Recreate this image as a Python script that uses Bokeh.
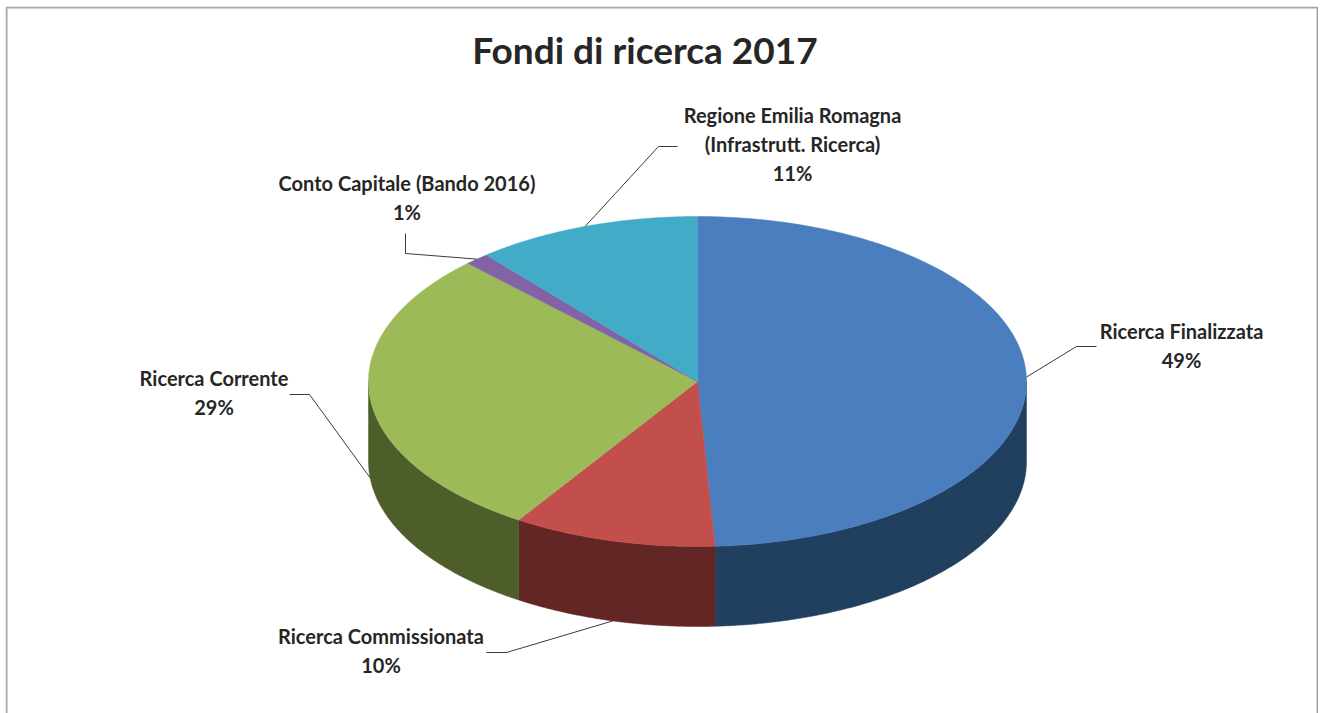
import numpy as np
from bokeh.plotting import figure
from bokeh.models import Range1d
from bokeh.core.properties import value
from bokeh.embed import file_html
from bokeh.resources import INLINE

title = "Fondi di ricerca 2017"
categories = ["Ricerca Finalizzata", "Ricerca Commissionata", "Ricerca Corrente",
              "Conto Capitale (Bando 2016)", "Regione Emilia Romagna (Infrastrutt. Ricerca)"]
shares = [49.15, 10.0, 28.55, 1.2, 11.1]
percent_labels = ["49%", "10%", "29%", "1%", "11%"]
label_lines = [["Ricerca Finalizzata"], ["Ricerca Commissionata"], ["Ricerca Corrente"],
               ["Conto Capitale (Bando 2016)"], ["Regione Emilia Romagna", "(Infrastrutt. Ricerca)"]]
top_colors = ["#4A7EBF", "#C24F4B", "#9CBB58", "#8263A5", "#41ABC8"]
side_colors = ["#214060", "#622625", "#4E5E2B", "#4E3D63", "#1F6478"]

# layout, in page pixels
CX, CY, RX, RY, DEPTH = 698.0, 381.0, 329.0, 165.0, 80.0
label_centre = [(1182, 330.5), (381.5, 635.5), (214.5, 377.5), (407.5, 182.5), (793, 114.5)]
line_step = 29
elbows = [[(1077, 346), (1097, 346)], [(507, 652), (487, 652)], [(310, 394), (290, 394)],
          [(406, 253), (406, 233)], [(659, 146), (678, 146)]]
FONT = "Lato"
INK = "#262626"

def ex(t):
    return CX + RX * np.sin(t)

def ey(t, dz=0.0):
    return CY - RY * np.cos(t) + dz

p = figure(width=1313, height=707, x_range=Range1d(6, 1319), y_range=Range1d(713, 6),
           output_backend="svg", toolbar_location=None, min_border=0,
           margin=(6, 0, 0, 5), outline_line_color=None, background_fill_color="white",
           border_fill_color="white")
p.axis.visible = False
p.grid.visible = False

# chart frame (runs off the bottom of the window)
p.line([7, 7, 1318, 1318], [800, 7, 7, 800], line_color="#A6A6A6", line_width=2)

edges = 2 * np.pi * np.cumsum([0] + shares) / sum(shares)

# side walls: only the part of each slice facing the viewer
for a, b, c in zip(edges[:-1], edges[1:], side_colors):
    lo, hi = max(a, np.pi / 2), min(b, 3 * np.pi / 2)
    if lo >= hi:
        continue
    t = np.linspace(lo, hi, 160)
    xs = np.concatenate([ex(t), ex(t[::-1])])
    ys = np.concatenate([ey(t), ey(t[::-1], DEPTH)])
    p.patch(xs, ys, fill_color=c, line_color=c, line_width=0.5)

# top faces
for a, b, c in zip(edges[:-1], edges[1:], top_colors):
    t = np.linspace(a, b, 240)
    p.patch(np.concatenate([[CX], ex(t)]), np.concatenate([[CY], ey(t)]),
            fill_color=c, line_color=c, line_width=0.5)

# leader lines: from the slice's mid angle to the elbow, then to the label
for a, b, el in zip(edges[:-1], edges[1:], elbows):
    m = (a + b) / 2
    dz = DEPTH if np.pi / 2 < m < 3 * np.pi / 2 else 0.0
    p.line([ex(m), el[0][0], el[1][0]], [ey(m, dz), el[0][1], el[1][1]],
           line_color="#3A3A3A", line_width=1)

# labels
tx, ty, tt = [], [], []
for lines, pct, (lx, ly) in zip(label_lines, percent_labels, label_centre):
    for i, s in enumerate(list(lines) + [pct]):
        tx.append(lx)
        ty.append(ly + i * line_step)
        tt.append(s)
p.text(tx, ty, text=tt, text_font=value(FONT), text_font_style="bold", text_font_size="20px",
       text_color=INK, text_align="center", text_baseline="middle")
p.text([645.5], [49], text=[title], text_font=value(FONT), text_font_style="bold",
       text_font_size="37px", text_color=INK, text_align="center", text_baseline="middle")

open("out.html", "w").write(file_html(p, INLINE))
